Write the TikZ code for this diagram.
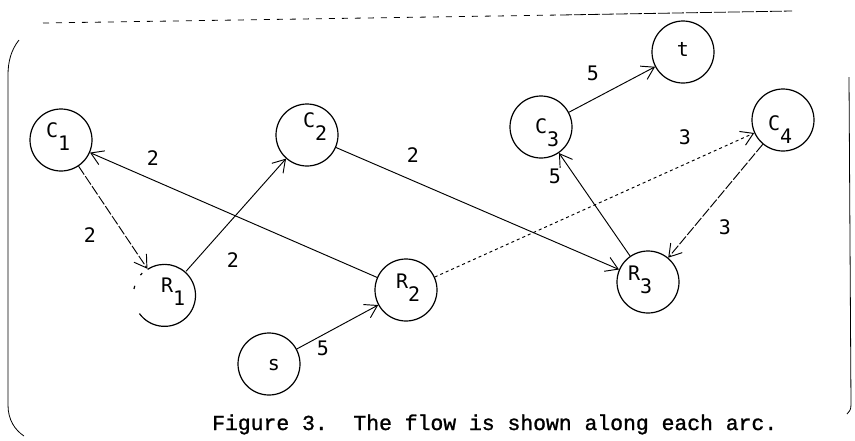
\documentclass[tikz,border=0pt]{standalone}
\usepackage{fontspec}
\usetikzlibrary{arrows.meta}
\newfontfamily\lblfont{DejaVu Sans Mono}
\newfontfamily\capfont[FakeBold=1.2]{Liberation Mono}
\begin{document}
\begin{tikzpicture}[x=1pt,y=-1pt,
  vtx/.style={circle, draw, line width=1.2pt, minimum size=62pt, inner sep=0pt},
  lab/.style={font=\lblfont\fontsize{20}{22}\selectfont, inner sep=0pt},
  arcline/.style={line width=0.95pt, -{Straight Barb[length=12pt,width=15pt]}},
  framelt/.style={line width=0.8pt}]
\useasboundingbox (0,0) rectangle (855,440);

% frame
\draw[framelt, dash pattern=on 6pt off 7pt] (43,23) -- (560,15);
\draw[framelt, dash pattern=on 12pt off 2pt] (560,15) -- (792,11);
\draw[framelt] (19,40) .. controls (11,50) and (8,62) .. (8,75) -- (8,405)
  .. controls (8,420) and (15,430) .. (24,436);
\draw[framelt] (849,77) -- (851,405) .. controls (851,410) and (849,412) .. (847,414);

% vertices
\node[vtx] (C1) at (61,140) {};
\node[vtx] (C2) at (307,135) {};
\node[vtx] (C3) at (541,127) {};
\node[vtx] (C4) at (783,120) {};
\node[vtx, draw=none] (R1) at (165,295) {};
\node[vtx] (R2) at (406,290) {};
\node[vtx] (R3) at (648,282) {};
\node[vtx] (s) at (269,364) {};
\node[vtx] (t) at (683,52) {};
\draw[line width=1.2pt] (R1.216) arc[start angle=-216, end angle=-483, radius=31];
\draw[line width=1.2pt] (R1.169) arc[start angle=-169, end angle=-163, radius=31];
\draw[line width=1.2pt] (R1.141) arc[start angle=-141, end angle=-136, radius=31];

% vertex labels
\node[lab, anchor=base west] (C1l) at (46,137) {C\raisebox{-13pt}{1}};
\node[lab, anchor=base west] (C2l) at (303,127) {C\raisebox{-13pt}{2}};
\node[lab, anchor=base west] (C3l) at (535,133) {C\raisebox{-13pt}{3}};
\node[lab, anchor=base west] (C4l) at (768,130) {C\raisebox{-13pt}{4}};
\node[lab, anchor=base west] (R1l) at (161,292) {R\raisebox{-13pt}{1}};
\node[lab, anchor=base west] (R2l) at (396,288) {R\raisebox{-13pt}{2}};
\node[lab, anchor=base west] (R3l) at (628,280) {R\raisebox{-13pt}{3}};
\node[lab, anchor=base] (sl) at (274,370) {s};
\node[lab, anchor=base] (tl) at (683,56) {t};

% arcs
\draw[arcline, dash pattern=on 10pt off 2pt] (C1) -- (R1);
\draw[arcline] (R1) -- (C2);
\draw[arcline] (R2) -- (C1);
\draw[arcline] (C2) -- (R3);
\draw[arcline, dash pattern=on 3pt off 3pt] (R2) -- (C4);
\draw[arcline] (R3) -- (C3);
\draw[arcline, dash pattern=on 10pt off 2pt] (C4) -- (R3);
\draw[arcline] (C3) -- (t);
\draw[arcline] (s) -- (R2);

% flow labels
\node[lab] (f1) at (90,235) {2};
\node[lab] (f2) at (233,260) {2};
\node[lab] (f3) at (153,158) {2};
\node[lab] (f4) at (413,155) {2};
\node[lab] (f5) at (685,137) {3};
\node[lab] (f6) at (555,176) {5};
\node[lab] (f7) at (725,227) {3};
\node[lab] (f8) at (593,73) {5};
\node[lab] (f9) at (323,348) {5};

% caption
\node[font=\capfont\fontsize{21.4}{24}\selectfont\frenchspacing, inner sep=0pt, anchor=base west]
  (cap) at (212,430) {Figure 3.~~The flow is shown along each arc.};
\end{tikzpicture}
\end{document}
